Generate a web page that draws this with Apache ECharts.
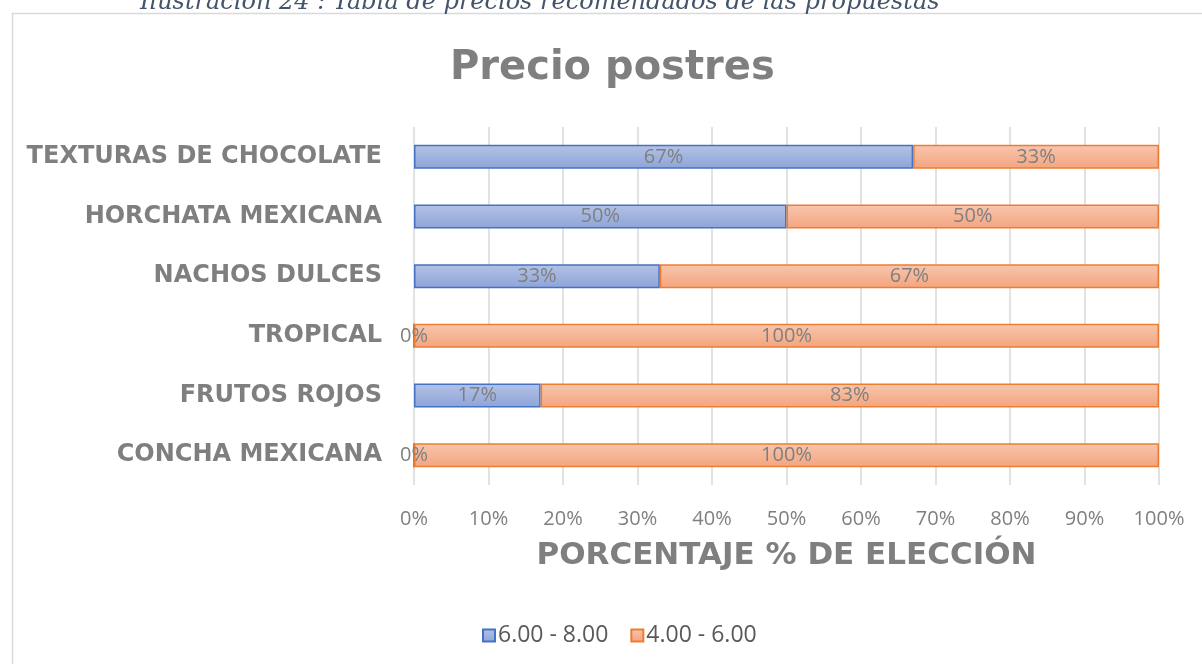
<!DOCTYPE html>
<html><head><meta charset="utf-8">
<script src="https://cdn.jsdelivr.net/npm/echarts@6/dist/echarts.min.js"></script>
<style>html,body{margin:0;padding:0;background:#fff;}#c{width:1202px;height:664px;}</style>
</head><body><div id="c"></div>
<script>
const categories = ['CONCHA MEXICANA','FRUTOS ROJOS','TROPICAL','NACHOS DULCES','HORCHATA MEXICANA','TEXTURAS DE CHOCOLATE'];
const seriesNames = ['6.00 - 8.00','4.00 - 6.00'];
const valuesHigh = [0,17,0,33,50,67];
const valuesLow = [100,83,100,67,50,33];
const xTicks = [0,10,20,30,40,50,60,70,80,90,100];

const chart = echarts.init(document.getElementById('c'), null, {renderer:'canvas'});
const grad = (a,b)=>new echarts.graphic.LinearGradient(0,0,0,1,[{offset:0,color:a},{offset:1,color:b}]);
const lbl = {show:true, position:'inside', color:'#7f7f7f', fontFamily:'Open Sans', fontSize:20, formatter:p=>p.value+'%'};
chart.setOption({
  animation:false,
  graphic:[
    {type:'rect', shape:{x:12.5,y:13.5,width:1210,height:700}, style:{fill:'none', stroke:'#d9d9d9', lineWidth:1.5}, silent:true},
    {type:'text', x:140, y:-9.5, style:{text:'Ilustración 24 : Tabla de precios recomendados de las propuestas', font:'italic 24px "DejaVu Serif"', fill:'#44546A'}}
  ],
  title:{text:'Precio postres', left:445, top:44, textStyle:{fontFamily:'DejaVu Sans', fontWeight:'bold', fontSize:40, color:'#7f7f7f'}},
  grid:{left:414, right:43, top:127, bottom:179, containLabel:false},
  legend:{bottom:12, left:477, itemWidth:12, itemHeight:12, itemGap:22, icon:'rect',
    textStyle:{fontFamily:'Open Sans', fontSize:23, color:'#595959', padding:[0,0,0,-2]}, data:seriesNames},
  xAxis:{type:'value', min:0, max:100, interval:10,
    axisLabel:{formatter:'{value}%', fontFamily:'Open Sans', fontSize:20, color:'#7f7f7f', margin:24},
    splitLine:{lineStyle:{color:'#d9d9d9', width:1.5}}, axisLine:{show:false}, axisTick:{show:false},
    name:'PORCENTAJE % DE ELECCIÓN', nameLocation:'middle', nameGap:55,
    nameTextStyle:{fontFamily:'DejaVu Sans', fontWeight:'bold', fontSize:31, color:'#7f7f7f'}},
  yAxis:{type:'category', data:categories, axisLine:{show:false}, axisTick:{show:false},
    axisLabel:{fontFamily:'DejaVu Sans', fontWeight:'bold', fontSize:24, color:'#7f7f7f', margin:32}},
  series:[
    {name:seriesNames[0], type:'bar', stack:'s', data:valuesHigh, barWidth:24,
     itemStyle:{color:grad('#b3c2e6','#8ea4d8'), borderColor:'#4472C4', borderWidth:1.5}, label:lbl},
    {name:seriesNames[1], type:'bar', stack:'s', data:valuesLow, barWidth:24,
     itemStyle:{color:grad('#f8c6ae','#f3a47e'), borderColor:'#ED7D31', borderWidth:1.5}, label:lbl}
  ]
});
</script></body></html>
